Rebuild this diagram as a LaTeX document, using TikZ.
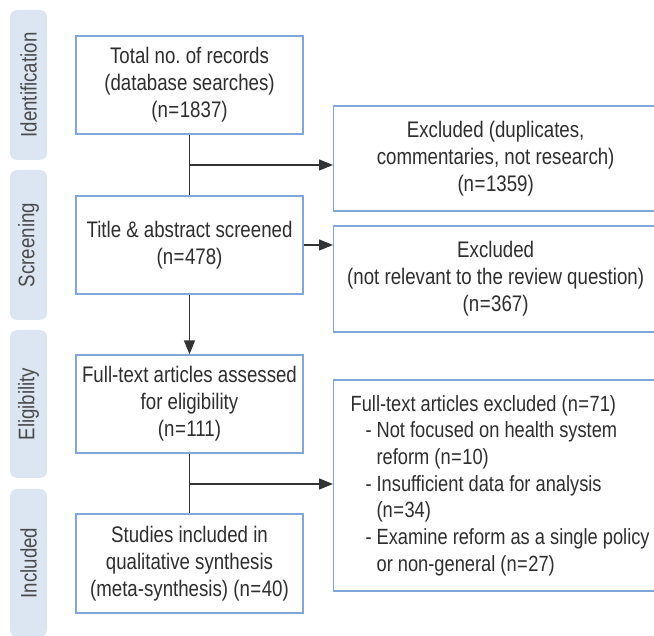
\documentclass[tikz,border=0pt]{standalone}
\usepackage{fontspec}
\setmainfont{Liberation Sans}[FakeStretch=0.83]
\usetikzlibrary{arrows.meta}
\definecolor{lblfill}{HTML}{DCE6F2}
\definecolor{lbltext}{HTML}{4A4A4A}
\definecolor{boxline}{HTML}{7FA8D8}
\definecolor{txt}{HTML}{2E2E2E}
\definecolor{lnk}{HTML}{333333}
\newcommand{\eqs}{\kern0.5pt=\kern0.5pt}
\begin{document}
\begin{tikzpicture}[x=1pt,y=-1pt,
  font=\fontsize{22.5}{27}\selectfont,
  lbl/.style={fill=lblfill, rounded corners=7pt, rotate=90, minimum height=37pt, inner sep=0pt, text=lbltext},
  box/.style={draw=boxline, line width=1.3pt, fill=white, align=center, inner sep=0pt, minimum width=227pt, minimum height=98pt, text=txt},
  rbox/.style={draw=boxline, line width=1.3pt, fill=white, align=center, inner sep=0pt, minimum width=324pt, text=txt, anchor=west},
  link/.style={draw=lnk, line width=1.4pt},
  arr/.style={link, -{Triangle[length=14pt,width=11pt]}}
]
\useasboundingbox (0,0) rectangle (654,636);
\clip (0,0) rectangle (654,636);
% stage labels
\node[lbl, minimum width=150pt] (lab1) at (28.5,85) {Identification};
\node[lbl, minimum width=150pt] (lab2) at (28.5,245) {Screening};
\node[lbl, minimum width=148pt] (lab3) at (28.5,404) {Eligibility};
\node[lbl, minimum width=148pt] (lab4) at (28.5,563) {Included};
% main boxes
\node[box] (b1) at (189.5,85) {Total no.\ of records\\(database searches)\\(n\eqs1837)};
\node[box] (b2) at (189.5,245) {Title \& abstract screened\\(n\eqs478)};
\node[box] (b3) at (189.5,404) {Full-text articles assessed\\for eligibility\\(n\eqs111)};
\node[box, minimum height=99pt] (b4) at (189.5,563.5) {Studies included in\\qualitative synthesis\\(meta-synthesis) (n\eqs40)};
% right boxes
\node[rbox, minimum height=105pt] (r1) at (333,158.5) {Excluded (duplicates,\\commentaries, not research)\\(n\eqs1359)};
\node[rbox, minimum height=106pt] (r2) at (333,279) {Excluded\\(not relevant to the review question)\\(n\eqs367)};
\node[draw=boxline, line width=1.3pt, fill=white, anchor=west, align=left,
      inner xsep=17pt, inner ysep=0pt, minimum height=211pt, text=txt,
      font=\fontsize{22}{26.7}\selectfont] (r3) at (333,485.5)
  {Full-text articles excluded (n\eqs71)\\
   \hspace*{15pt}\makebox[11pt][l]{-}Not focused on health system\\
   \hspace*{26pt}reform (n\eqs10)\\
   \hspace*{15pt}\makebox[11pt][l]{-}Insufficient data for analysis\\
   \hspace*{26pt}(n\eqs34)\\
   \hspace*{15pt}\makebox[11pt][l]{-}Examine reform as a single policy\\
   \hspace*{26pt}or non-general (n\eqs27)};
% connectors
\coordinate (j1) at (189.5,165);
\coordinate (j2) at (189.5,484);
\draw[link] (b1.south) -- (b2.north);
\draw[arr] (j1) -- (j1 -| r1.west);
\draw[arr] (b2.east) -- (b2.east -| r2.west);
\draw[arr] (b2.south) -- (b3.north);
\draw[link] (b3.south) -- (b4.north);
\draw[arr] (j2) -- (j2 -| r3.west);
\end{tikzpicture}
\end{document}
